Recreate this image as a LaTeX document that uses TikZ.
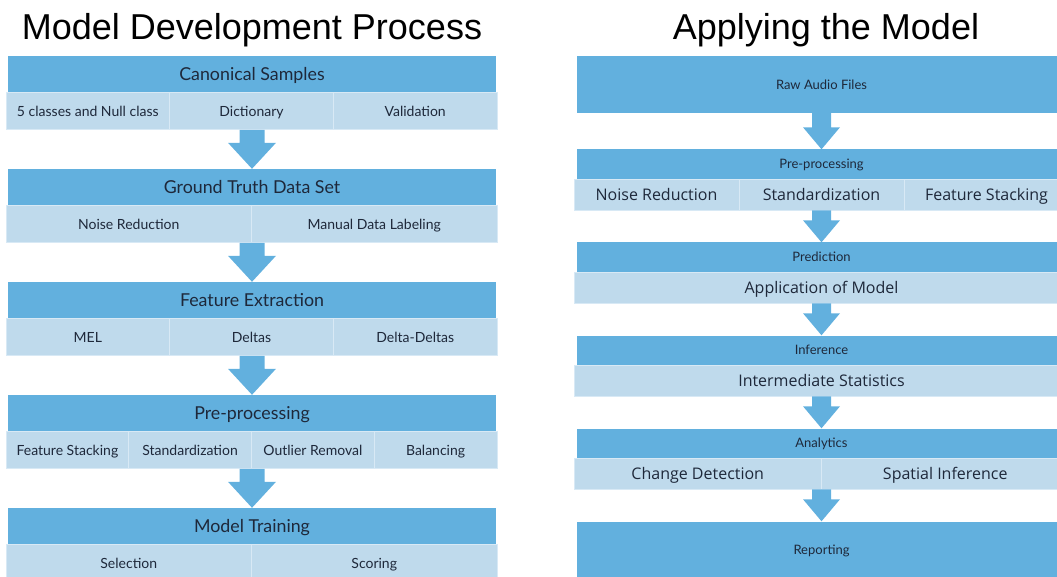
\documentclass[tikz,border=0pt]{standalone}
\usepackage{fontspec}
\setmainfont{Liberation Sans}
\newfontfamily\labelfont{Lato}
\newfontfamily\cellfont{Open Sans}
\usetikzlibrary{calc}
\definecolor{headblue}{RGB}{98,176,222}
\definecolor{cellblue}{RGB}{191,218,236}
\definecolor{cellline}{RGB}{216,233,245}
\definecolor{inkblue}{RGB}{30,40,58}
% block arrow from the bottom of one row to the top of the next one
% #1 from, #2 to, #3 half shaft, #4 half head, #5 head length (pt)
\newcommand{\flowarrow}[5]{%
  \fill[headblue] let \p1=(#1.south), \p2=(#2.north) in
    (\x2-#3pt,\y1) -- (\x2+#3pt,\y1) -- (\x2+#3pt,\y2+#5pt) -- (\x2+#4pt,\y2+#5pt)
    -- (\x2,\y2) -- (\x2-#4pt,\y2+#5pt) -- (\x2-#3pt,\y2+#5pt) -- cycle;}

\begin{document}
\begin{tikzpicture}[x=1pt,y=-1pt]
    \tikzset{
        title/.style = {anchor=base, inner sep=0pt, font=\fontsize{36}{40}\selectfont},
        head/.style = {fill=headblue, text=inkblue, inner sep=0pt, minimum height=36.5pt,
                       minimum width=488pt, text height=12.8pt, text depth=0pt,
                       font=\labelfont\fontsize{17.8}{19}\selectfont},
        cell/.style = {fill=cellblue, draw=cellline, line width=0.8pt, text=inkblue, inner sep=0pt,
                       minimum height=37pt, text height=10.1pt, text depth=0pt,
                       font=\labelfont\fontsize{14}{16}\selectfont},
        rhead/.style = {head, minimum width=489pt, minimum height=29.5pt, text height=9.4pt,
                        font=\labelfont\fontsize{13}{15}\selectfont},
        rcell/.style = {cell, minimum height=31pt, text height=11.4pt,
                        font=\cellfont\fontsize{16}{18}\selectfont}
    }
    \useasboundingbox (0,0) rectangle (1057,577);
    \clip (0,0) rectangle (1057,577);

    % model development
    \node[title] (devtitle) at (252,40) {Model Development Process};

    \node[head] (canon) at (252,74.25) {Canonical Samples};
    \node[cell, minimum width=163.7pt] (classes) at (87.8,111) {5 classes and Null class};
    \node[cell, minimum width=163.7pt] (dict) at (251.5,111) {Dictionary};
    \node[cell, minimum width=163.7pt] (valid) at (415.2,111) {Validation};

    \node[head] (truth) at (252,187.25) {Ground Truth Data Set};
    \node[cell, minimum width=245.5pt] (noise) at (128.75,224) {Noise Reduction};
    \node[cell, minimum width=245.5pt] (labeling) at (374.25,224) {Manual Data Labeling};

    \node[head] (extract) at (252,300.25) {Feature Extraction};
    \node[cell, minimum width=163.7pt] (mel) at (87.8,337) {MEL};
    \node[cell, minimum width=163.7pt] (deltas) at (251.5,337) {Deltas};
    \node[cell, minimum width=163.7pt] (ddeltas) at (415.2,337) {Delta-Deltas};

    \node[head] (prep) at (252,413.25) {Pre-processing};
    \node[cell, minimum width=122.75pt] (stack) at (67.4,450) {Feature Stacking};
    \node[cell, minimum width=122.75pt] (stand) at (190.1,450) {Standardization};
    \node[cell, minimum width=122.75pt] (outlier) at (312.9,450) {Outlier Removal};
    \node[cell, minimum width=122.75pt] (balance) at (435.6,450) {Balancing};

    \node[head] (train) at (252,526.25) {Model Training};
    \node[cell, minimum width=245.5pt] (select) at (128.75,563) {Selection};
    \node[cell, minimum width=245.5pt] (score) at (374.25,563) {Scoring};

    \flowarrow{dict}{truth}{12.5}{24}{26}
    \flowarrow{noise}{extract}{12.5}{24}{26}
    \flowarrow{deltas}{prep}{12.5}{24}{26}
    \flowarrow{stand}{train}{12.5}{24}{26}

    % applying the model
    \node[title] (applytitle) at (826,40) {Applying the Model};

    \node[rhead, minimum height=57pt] (raw) at (821.5,84.5) {Raw Audio Files};

    \node[rhead] (rprep) at (821.5,164.25) {Pre-processing};
    \node[rcell, minimum width=165pt] (rnoise) at (656.5,194.5) {Noise Reduction};
    \node[rcell, minimum width=165pt] (rstand) at (821.5,194.5) {Standardization};
    \node[rcell, minimum width=165pt] (rstack) at (986.5,194.5) {Feature Stacking};

    \node[rhead] (predict) at (821.5,257.25) {Prediction};
    \node[rcell, minimum width=495pt] (apply) at (821.5,287.5) {Application of Model};

    \node[rhead] (infer) at (821.5,350.25) {Inference};
    \node[rcell, minimum width=495pt] (stats) at (821.5,380.5) {Intermediate Statistics};

    \node[rhead] (analytics) at (821.5,443.25) {Analytics};
    \node[rcell, minimum width=247.5pt] (change) at (697.75,473.5) {Change Detection};
    \node[rcell, minimum width=247.5pt] (spatial) at (945.25,473.5) {Spatial Inference};

    \node[rhead, minimum height=57pt] (report) at (821.5,550) {Reporting};

    \flowarrow{raw}{rprep}{9.5}{18.5}{22}
    \flowarrow{rstand}{predict}{9.5}{18.5}{22}
    \flowarrow{apply}{infer}{9.5}{18.5}{22}
    \flowarrow{stats}{analytics}{9.5}{18.5}{22}
    \flowarrow{change}{report}{9.5}{18.5}{22}
\end{tikzpicture}
\end{document}
